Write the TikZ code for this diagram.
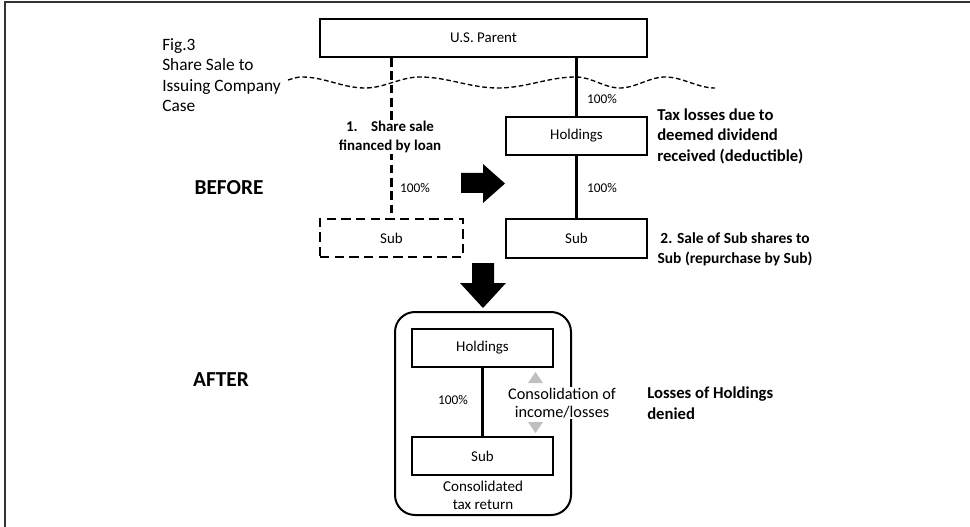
\documentclass[tikz,border=0pt]{standalone}
\usepackage{fontspec}
\setmainfont{Carlito}
\begin{document}
\begin{tikzpicture}[x=0.75pt,y=-0.75pt,
  box/.style={draw, line width=1.5pt, minimum width=105.75pt, minimum height=28.5pt, inner sep=0pt, font=\fontsize{11.2}{13}\selectfont},
  pct/.style={font=\fontsize{10}{12}\selectfont, inner sep=1pt},
  bnote/.style={font=\bfseries\fontsize{12.5}{15.4}\selectfont, align=left, inner sep=0pt},
  phase/.style={font=\bfseries\fontsize{16}{18}\selectfont, inner sep=0pt},
  link/.style={line width=1.6pt},
  dlink/.style={line width=1.6pt, dash pattern=on 6.5pt off 3.5pt},
  wave/.style={line width=1pt, dash pattern=on 3.5pt off 2pt},
  bigarrow/.style={fill=black, draw=none},
  consarrow/.style={fill=black!25, draw=none}]
\useasboundingbox (0,0) rectangle (970,527);
\draw[line width=1.5pt, black!80] (5,527) -- (5,2.5) -- (970,2.5);

% boxes
\node[box, minimum width=245.25pt] (parent) at (483.5,38) {U.S. Parent};
\node[box] (hold) at (576.5,136) {Holdings};
\node[box] (sub) at (576.5,238.5) {Sub};
\node[box, dash pattern=on 7pt off 4pt, minimum width=107.25pt] (dsub) at (391.5,238) {Sub};
\node[draw, line width=1.5pt, rounded corners=15pt, minimum width=132pt, minimum height=152.25pt, inner sep=0pt] (group) at (483,413.5) {};
\node[box] (hold2) at (482.5,348) {Holdings};
\node[box] (sub2) at (482.5,456) {Sub};

% wavy border line
\draw[wave] (288,80) .. controls (295,78) and (297,77) .. (302,77)
  .. controls (324.7,77) and (342.3,88) .. (365,88)
  .. controls (384.8,88) and (400.2,77) .. (420,77)
  .. controls (448,77) and (470,88) .. (498,88)
  .. controls (526,88) and (548,77) .. (576,77)
  .. controls (591.8,77) and (604.2,88) .. (620,88)
  .. controls (636.2,88) and (648.8,77) .. (665,77)
  .. controls (683,77) and (697,88) .. (715,88);

% connectors
\draw[link] (parent.south -| hold) -- (hold.north);
\draw[link] (hold) -- (sub);
\draw[link] (hold2) -- (sub2);
\draw[dlink] (parent.south -| dsub) -- (dsub.north);

% big arrows
\draw[bigarrow] (461,173) -- (483,173) -- (483,164) -- (505,183.5) -- (483,203) -- (483,193) -- (461,193) -- cycle;
\draw[bigarrow] (472,263) -- (494,263) -- (494,283) -- (506,283) -- (483,308) -- (460,283) -- (472,283) -- cycle;

% consolidation triangles
\draw[consarrow] (528,383) -- (535.5,372) -- (543,383) -- cycle;
\draw[consarrow] (528,422) -- (535.5,433) -- (543,422) -- cycle;

% texts
\node[font=\fontsize{13}{15.2}\selectfont, align=left, anchor=west, inner sep=0pt] (title) at (162,75) {Fig.3\\Share Sale to\\Issuing Company\\Case};
\node[font=\bfseries\fontsize{11.2}{14.2}\selectfont, align=center, fill=white, inner sep=1pt] (l1) at (390,137) {1.\hspace{0.9em}Share sale\\financed by loan};
\node[pct] (p0) at (415,188) {100\%};
\node[pct] (p1) at (602,99) {100\%};
\node[pct] (p2) at (602,188) {100\%};
\node[pct] (p3) at (453,400) {100\%};
\node[bnote, anchor=west] (tax) at (657,136) {Tax losses due to\\deemed dividend\\received (deductible)};
\node[font=\bfseries\fontsize{11.6}{15}\selectfont, align=center, inner sep=0pt] (sale) at (735,249) {2. Sale of Sub shares to\\Sub (repurchase by Sub)};
\node[phase] (before) at (229,188) {BEFORE};
\node[phase] (after) at (221,380) {AFTER};
\node[bnote, anchor=west] (loss) at (647,403) {Losses of Holdings\\denied};
\node[font=\fontsize{12.2}{13.5}\selectfont, align=center, fill=white, inner sep=1pt] (cons) at (562,403) {Consolidation of\\income/losses};
\node[font=\fontsize{11.3}{13.5}\selectfont, align=center, inner sep=0pt] (ctr) at (483,495) {Consolidated\\tax return};
\end{tikzpicture}
\end{document}
